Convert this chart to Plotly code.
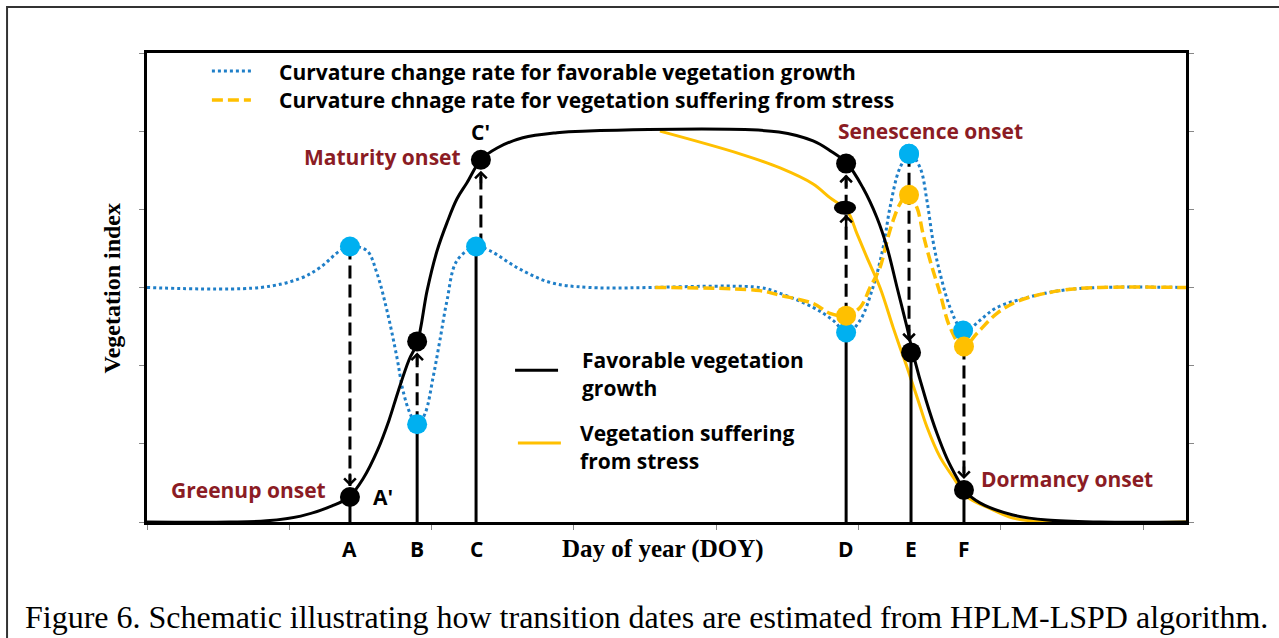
import plotly.graph_objects as go

# ---------------- data (day of year, vegetation index) ----------------
doy_fav = [0, 29, 42, 54, 65, 71, 76, 81, 85, 88, 92, 95, 98.4, 101.9, 105.4, 108.9, 112.4, 117.3, 123, 132,
           144, 153, 222, 234, 240, 246, 251.5, 256.4, 260, 263.5, 267, 269.1, 273.7, 277.5, 281, 284.6, 287,
           292.6, 304.2, 316.2, 334.8, 365]
vi_fav = [0, 0, 0.003, 0.015, 0.041, 0.064, 0.112, 0.184, 0.260, 0.329, 0.414, 0.460, 0.592, 0.694, 0.766, 0.827,
          0.868, 0.927, 0.957, 0.983, 0.996, 1.0, 0.998, 0.975, 0.950, 0.917, 0.855, 0.779, 0.702, 0.600, 0.498,
          0.431, 0.311, 0.227, 0.163, 0.112, 0.082, 0.049, 0.018, 0.005, 0, 0]

doy_str = [180.2, 208.3, 222.4, 234.0, 239.9, 245.9, 249.4, 252.9, 257.5, 262.1, 264.5, 267.0, 269.1, 270.9,
           274.0, 278.6, 283.2, 288.1, 295.1, 304.2, 316.2, 365]
vi_str = [1.0, 0.942, 0.906, 0.865, 0.830, 0.797, 0.738, 0.677, 0.600, 0.498, 0.447, 0.396, 0.350, 0.311,
          0.243, 0.166, 0.115, 0.064, 0.038, 0.010, 0, 0]

doy_ccr_fav = [0, 39.7, 53.7, 60.8, 67.8, 71.7, 77.3, 80.8, 84.3, 87.8, 89.9, 92.4, 94.9, 97.7, 100.5, 102.9,
               105.4, 108.9, 115.6, 120.5, 130.0, 141.6, 155.6, 215.3, 222.4, 234.0, 241.0, 245.9, 250.5, 255.0,
               258.6, 261.0, 264.5, 268.0, 271.6, 274.0, 276.1, 278.6, 282.1, 285.6, 288.1, 292.6, 298.6, 309.1,
               320.7, 334.8, 365]
ccr_fav = [0.6, 0.6, 0.623, 0.651, 0.694, 0.705, 0.694, 0.636, 0.541, 0.421, 0.337, 0.278, 0.248, 0.278, 0.370,
           0.465, 0.567, 0.669, 0.705, 0.694, 0.651, 0.613, 0.6, 0.6, 0.585, 0.549, 0.516, 0.483, 0.516, 0.600,
           0.702, 0.804, 0.906, 0.942, 0.906, 0.822, 0.720, 0.636, 0.549, 0.498, 0.490, 0.516, 0.549, 0.574,
           0.592, 0.6, 0.6]

doy_ccr_str = [178.5, 215.3, 222.4, 234.0, 239.9, 245.2, 250.5, 254.0, 257.5, 260.0, 262.1, 264.5, 267.3, 270.5,
               272.6, 275.1, 278.6, 282.1, 286.7, 291.6, 298.6, 306.7, 320.7, 334.8, 365]
ccr_str = [0.6, 0.592, 0.580, 0.559, 0.534, 0.528, 0.549, 0.600, 0.651, 0.720, 0.771, 0.814, 0.840, 0.804,
           0.738, 0.669, 0.585, 0.498, 0.447, 0.483, 0.534, 0.567, 0.592, 0.6, 0.6]

event_labels = ["A", "B", "C", "D", "E", "F"]
event_doy = [71.3, 94.9, 115.6, 245.6, 268.4, 287.0]

fav_pt_doy = [71.3, 94.9, 117.3, 245.6, 268.4, 287.0]
fav_pt_vi = [0.064, 0.462, 0.927, 0.917, 0.434, 0.082]

ccr_fav_pt_doy = [71.3, 94.9, 115.6, 245.6, 267.7, 286.7]
ccr_fav_pt = [0.705, 0.250, 0.705, 0.485, 0.942, 0.490]

ccr_str_pt_doy = [245.6, 267.7, 287.0]
ccr_str_pt = [0.528, 0.837, 0.449]

str_D_doy = 245.2
str_D_vi = 0.804

# ---------------- styling ----------------
BLACK = "#000000"
GOLD = "#FFC000"
BLUE_LINE = "#1F7FC8"
BLUE_DOT = "#00B0F0"
RED = "#8B1C24"
SANS = "Open Sans"
SERIF = "Liberation Serif"
Y_PER_PX = 1.2 / 470.0

fig = go.Figure()

# curvature change rate curves
fig.add_trace(go.Scatter(x=doy_ccr_fav, y=ccr_fav, mode="lines", line=dict(color=BLUE_LINE, width=3, dash="dot", shape="spline"),
                         name="Curvature change rate for favorable vegetation growth", showlegend=False))
fig.add_trace(go.Scatter(x=doy_ccr_str, y=ccr_str, mode="lines", line=dict(color=GOLD, width=3.5, dash="11px,5px", shape="spline"),
                         name="Curvature chnage rate for vegetation suffering from stress", showlegend=False))

# vegetation index curves
fig.add_trace(go.Scatter(x=doy_str, y=vi_str, mode="lines", line=dict(color=GOLD, width=3, shape="spline"),
                         name="Vegetation suffering from stress", showlegend=False))
fig.add_trace(go.Scatter(x=doy_fav, y=vi_fav, mode="lines", line=dict(color=BLACK, width=3, shape="spline"),
                         name="Favorable vegetation growth", showlegend=False))

# solid drop lines from the axis
drop_top = [fav_pt_vi[0], ccr_fav_pt[1], ccr_fav_pt[2], ccr_fav_pt[3], fav_pt_vi[4], fav_pt_vi[5]]
for xd, yt in zip(event_doy, drop_top):
    fig.add_trace(go.Scatter(x=[xd, xd], y=[0, yt], mode="lines", line=dict(color=BLACK, width=3),
                             showlegend=False, hoverinfo="skip"))

# dashed arrows: (x, start, target)
r = 11 * Y_PER_PX
arrows = [
    (fav_pt_doy[0], ccr_fav_pt[0], fav_pt_vi[0]),
    (fav_pt_doy[1], ccr_fav_pt[1], fav_pt_vi[1]),
    (fav_pt_doy[2], ccr_fav_pt[2], fav_pt_vi[2]),
    (fav_pt_doy[3], ccr_str_pt[0], str_D_vi - 7 * Y_PER_PX + r),
    (fav_pt_doy[3], str_D_vi, fav_pt_vi[3]),
    (ccr_str_pt_doy[1], ccr_fav_pt[4], fav_pt_vi[4]),
    (ccr_str_pt_doy[2], ccr_str_pt[2], fav_pt_vi[5]),
]
for xd, y0, y1 in arrows:
    sgn = 1 if y1 > y0 else -1
    tip = y1 - sgn * r
    fig.add_trace(go.Scatter(x=[xd, xd], y=[y0, tip], mode="lines", line=dict(color=BLACK, width=3, dash="13px,6px"),
                             showlegend=False, hoverinfo="skip"))
    fig.add_annotation(x=xd, y=tip, xref="x", yref="y", ax=0, ay=sgn * 14, text="", showarrow=True,
                       arrowhead=4, arrowsize=0.9, arrowwidth=2.5, arrowcolor=BLACK)

# markers
fig.add_trace(go.Scatter(x=ccr_fav_pt_doy, y=ccr_fav_pt, mode="markers", marker=dict(color=BLUE_DOT, size=20),
                         showlegend=False))
fig.add_trace(go.Scatter(x=ccr_str_pt_doy, y=ccr_str_pt, mode="markers", marker=dict(color=GOLD, size=20),
                         showlegend=False))
fig.add_trace(go.Scatter(x=[ccr_fav_pt_doy[4]], y=[ccr_fav_pt[4]], mode="markers", marker=dict(color=BLUE_DOT, size=20),
                         showlegend=False))
fig.add_trace(go.Scatter(x=fav_pt_doy, y=fav_pt_vi, mode="markers", marker=dict(color=BLACK, size=20),
                         showlegend=False))
# stress point at D (ellipse)
fig.add_shape(type="circle", xref="x", yref="y", x0=str_D_doy - 3.9, x1=str_D_doy + 3.9,
              y0=str_D_vi - 7 * Y_PER_PX, y1=str_D_vi + 7 * Y_PER_PX, fillcolor=BLACK, line=dict(width=0))

# ---------------- text ----------------
def label(text, x, y, color=RED, size=21, xanchor="center", xref="x", yref="y", family=SANS, bold=True, angle=0):
    fig.add_annotation(x=x, y=y, xref=xref, yref=yref, text=f"<b>{text}</b>" if bold else text,
                       showarrow=False, xanchor=xanchor, yanchor="middle", textangle=angle,
                       font=dict(family=family, size=size, color=color))

label("Greenup onset", 35.5, 0.082)
label("A'", 82.9, 0.064, color=BLACK)
label("Maturity onset", 82.6, 0.934)
label("C'", 117.3, 0.998, color=BLACK)
label("Senescence onset", 275.4, 1.0)
label("Dormancy onset", 323.2, 0.110)

# top legend
fig.add_shape(type="line", xref="x", yref="y", x0=22.8, x1=37.2, y0=1.154, y1=1.154,
              line=dict(color=BLUE_LINE, width=3, dash="dot"))
fig.add_shape(type="line", xref="x", yref="y", x0=22.8, x1=36.5, y0=1.080, y1=1.080,
              line=dict(color=GOLD, width=3.5, dash="11px,5px"))
label("Curvature change rate for favorable vegetation growth", 45.7, 1.151, color=BLACK, xanchor="left")
label("Curvature chnage rate for vegetation suffering from stress", 45.7, 1.080, color=BLACK, xanchor="left")

# middle legend
fig.add_shape(type="line", xref="x", yref="y", x0=129.3, x1=144.4, y0=0.388, y1=0.388, line=dict(color=BLACK, width=3))
fig.add_shape(type="line", xref="x", yref="y", x0=130.3, x1=145.4, y0=0.202, y1=0.202, line=dict(color=GOLD, width=3))
label("Favorable vegetation", 152.1, 0.414, color=BLACK, xanchor="left")
label("growth", 152.1, 0.342, color=BLACK, xanchor="left")
label("Vegetation suffering", 151.4, 0.227, color=BLACK, xanchor="left")
label("from stress", 151.4, 0.156, color=BLACK, xanchor="left")

# event letters under the axis
for lab, xd in zip(event_labels, event_doy):
    label(lab, xd, -0.0574, color=BLACK, yref="paper", size=21)

label("Day of year (DOY)", 0.4966, -0.0574, color=BLACK, xref="paper", yref="paper", family=SERIF, size=25)
label("Vegetation index", -0.0337, 0.498, color=BLACK, xref="paper", yref="paper", family=SERIF, size=24, angle=-90)
label("Figure 6. Schematic illustrating how transition dates are estimated from HPLM-LSPD algorithm.",
      0.4812, -0.2021, color=BLACK, xref="paper", yref="paper", family=SERIF, size=32, bold=False)

# outer frame
fig.add_shape(type="rect", xref="paper", yref="paper", x0=-0.1347, x1=1.2, y0=-0.4, y1=1.0979,
              line=dict(color="#333333", width=2), layer="below")

fig.update_xaxes(range=[0, 365], tickvals=[0, 50, 100, 150, 200, 250, 300, 350], showticklabels=False,
                 ticks="outside", ticklen=5, tickcolor="#888888", showline=True, linecolor=BLACK, linewidth=3,
                 mirror=True, showgrid=False, zeroline=False)
fig.update_yaxes(range=[0, 1.2], dtick=0.2, showticklabels=False, ticks="outside", ticklen=5, tickcolor="#888888",
                 showline=True, linecolor=BLACK, linewidth=3, mirror="ticks", showgrid=False, zeroline=False)

fig.update_layout(width=1279, height=638, autosize=False, margin=dict(l=147, r=93, t=53, b=116),
                  plot_bgcolor="white", paper_bgcolor="white", showlegend=False)

fig.write_html("out.html", config={"displayModeBar": False},
               post_script="document.body.style.margin='0px';")
